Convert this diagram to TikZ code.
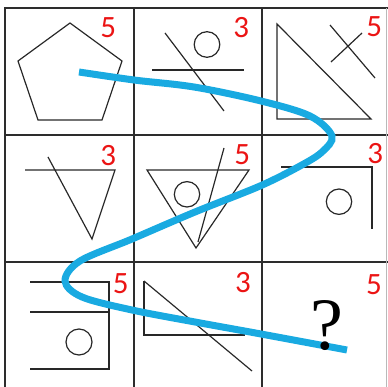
\documentclass[tikz,border=0pt]{standalone}
\usepackage{fontspec}
\setmainfont{Carlito}
\newfontfamily\qfont{Liberation Serif}
\definecolor{gridc}{RGB}{45,45,45}
\definecolor{shapec}{RGB}{40,40,40}
\definecolor{numred}{RGB}{235,20,20}
\definecolor{pathblue}{RGB}{25,170,225}
\begin{document}
\begin{tikzpicture}[x=1pt,y=-1pt,
  gridline/.style={draw=gridc,line width=1.5pt},
  fig/.style={draw=shapec,line width=1.2pt,line join=miter},
  num/.style={text=numred,font=\fontsize{31}{31}\selectfont,inner sep=0pt,anchor=center},
  route/.style={draw=pathblue,line width=7pt,line cap=butt}]
\useasboundingbox (0,0) rectangle (388,387);
\clip (0,0) rectangle (388,387);
% grid
\draw[gridline] (5,395) -- (5,8) -- (388,8);
\draw[gridline] (134,8) -- (134,395);
\draw[gridline] (262,8) -- (262,395);
\draw[gridline] (5,135) -- (388,135);
\draw[gridline] (5,262) -- (388,262);
\draw[draw=gray!55,line width=1pt] (386,8) -- (386,395);
% cell 1
\draw[fig] (70,23) -- (122,61) -- (102,120) -- (38,120) -- (18,61) -- cycle;
\node[num] (n1) at (108.3,27.8) {5};
% cell 2
\draw[fig] (207,44.5) circle[radius=12.8pt];
\draw[fig] (152,70) -- (244,70);
\draw[fig] (165,33) -- (224,111);
\node[num] (n2) at (241.3,27.8) {3};
% cell 3
\draw[fig] (277,24) -- (277,119) -- (371,119) -- cycle;
\draw[fig] (330,25) -- (375,78);
\draw[fig] (331,62) -- (362,33);
\node[num] (n3) at (374.3,26.5) {5};
% cell 4
\draw[fig] (25,170) -- (115,170) -- (92,239) -- (48,157);
\node[num] (n4) at (108.3,155.8) {3};
% cell 5
\draw[fig] (147,170) -- (249,170) -- (196,248) -- cycle;
\draw[fig] (187,194.3) circle[radius=12.7pt];
\draw[fig] (224,148) -- (198,242);
\node[num] (n5) at (242.2,155) {5};
% cell 6
\draw[fig] (281,167) -- (372,167) -- (372,229);
\draw[fig] (339,201.7) circle[radius=12.7pt];
\node[num] (n6) at (375.2,153.3) {3};
% cell 7
\draw[fig] (30,282) -- (109,282) -- (109,369) -- (30,369);
\draw[fig] (30,312) -- (109,312);
\draw[fig] (79,342) circle[radius=13pt];
\node[num] (n7) at (120.7,283.3) {5};
% cell 8
\draw[fig] (144,281) -- (144,335) -- (245,335);
\draw[fig] (144,281) -- (252,371);
\node[num] (n8) at (243,283) {3};
% cell 9
\node[num] (n9) at (374,284.8) {5};
% route
\draw[route] plot[smooth,tension=0.55] coordinates {
  (79,72) (134,80) (194,87) (261,101) (310,116) (332,136) (322,152)
  (300,166) (260,186) (195,212) (132,239) (80,261) (65,281) (82,297)
  (132,310) (195,322) (261,334) (347,350)};
\node[inner sep=0pt,anchor=center,text=black,font=\qfont\fontsize{74}{74}\selectfont] (q) at (326.5,325.7) {?};
\end{tikzpicture}
\end{document}
